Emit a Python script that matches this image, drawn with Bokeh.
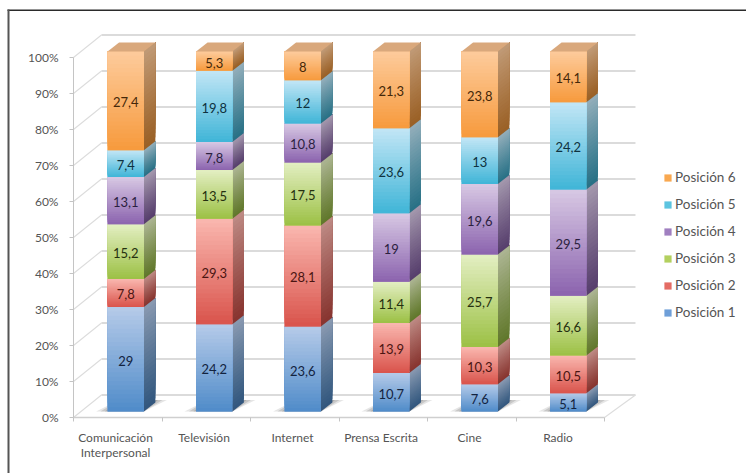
from bokeh.plotting import figure
from bokeh.models import ColumnDataSource, FixedTicker, Legend, LegendItem, Range1d, BoxAnnotation
from bokeh.core.properties import value
from bokeh.embed import file_html
from bokeh.resources import INLINE

categories = ["Comunicación\nInterpersonal", "Televisión", "Internet", "Prensa Escrita", "Cine", "Radio"]
pos1 = [29, 24.2, 23.6, 10.7, 7.6, 5.1]
pos2 = [7.8, 29.3, 28.1, 13.9, 10.3, 10.5]
pos3 = [15.2, 13.5, 17.5, 11.4, 25.7, 16.6]
pos4 = [13.1, 7.8, 10.8, 19, 19.6, 29.5]
pos5 = [7.4, 19.8, 12, 23.6, 13, 24.2]
pos6 = [27.4, 5.3, 8, 21.3, 23.8, 14.1]
series = [pos1, pos2, pos3, pos4, pos5, pos6]
names = ["Posición 1", "Posición 2", "Posición 3", "Posición 4", "Posición 5", "Posición 6"]
y_ticks = [0, 10, 20, 30, 40, 50, 60, 70, 80, 90, 100]

# (top colour, bottom colour, legend colour, label colour)
palette = [
    ("#b6cbe9", "#4f8bc9", "#6f9fd8", "#12233f"),
    ("#fab8b0", "#d9534b", "#e46c64", "#4a1512"),
    ("#e4efc3", "#9bc044", "#b3d05f", "#25300f"),
    ("#d8c9e4", "#8b63ae", "#a07fc0", "#2b1f3f"),
    ("#c3e6f6", "#3fb5d7", "#5cc4e0", "#0e3240"),
    ("#fdcb9c", "#f79a3c", "#f9a850", "#452809"),
]
FONT = "Lato"
GREY = "#cfcfcf"
TEXT = "#555555"

W, H = 746, 473
AX_X, AX_Y = 73, 417     # pixel position of the axes' origin
PX_X, PX_Y = 88.5, 3.6   # pixels per category, per percent


def hex2rgb(c):
    return tuple(int(c[i:i + 2], 16) for i in (1, 3, 5))


def mix(a, b, t, k=1.0):
    ra, rb = hex2rgb(a), hex2rgb(b)
    return "#%02x%02x%02x" % tuple(int(round((ra[i] * (1 - t) + rb[i] * t) * k)) for i in range(3))


# 3-D projection offsets, in data units
WALL_DY = 6.25
WALL_X0, WALL_X1 = 0.316, 6.35
BAR_OFF, BAR_W = 0.385, 0.41
BAR_BASE = 1.65
SIDE_DX, SIDE_DY = 0.13, 2.5
SLICES = 24

p = figure(width=W, height=H, output_backend="svg", toolbar_location=None,
           x_range=Range1d(-AX_X / PX_X, (W - AX_X) / PX_X),
           y_range=Range1d(-(H - AX_Y) / PX_Y, AX_Y / PX_Y),
           min_border=0, min_border_left=0, min_border_right=0, min_border_top=0, min_border_bottom=0,
           background_fill_color="white", border_fill_color="white", outline_line_color=None)
p.grid.visible = False

# walls
back = ColumnDataSource(dict(x0=[WALL_X0] * len(y_ticks), x1=[WALL_X1] * len(y_ticks),
                             y=[v + WALL_DY for v in y_ticks]))
p.segment("x0", "y", "x1", "y", source=back, line_color=GREY, line_width=1.6)
diag = ColumnDataSource(dict(x0=[0] * len(y_ticks), x1=[WALL_X0] * len(y_ticks), y0=y_ticks,
                             y1=[v + WALL_DY for v in y_ticks]))
p.segment("x0", "y0", "x1", "y1", source=diag, line_color="#dcdcdc", line_width=1.1)
p.segment([6], [0], [WALL_X1], [WALL_DY], line_color="#dcdcdc", line_width=1.1)

# floor shadows
for grow, alpha in ((0.13, 0.18), (0.08, 0.25), (0.03, 0.3)):
    xs, ys = [], []
    for i in range(len(categories)):
        l = i + BAR_OFF
        r = l + BAR_W
        xs.append([l - grow, r, r + SIDE_DX + grow, l + SIDE_DX])
        ys.append([BAR_BASE, BAR_BASE, BAR_BASE + 3.2, BAR_BASE + 3.2])
    p.patches(xs, ys, fill_color="#6e6e6e", fill_alpha=alpha, line_color=None)

legend_renderers = []
label_x, label_y, label_t, label_c = [], [], [], []
cum = [0.0] * len(categories)
totals = [sum(s[i] for s in series) for i in range(len(categories))]

for si, s in enumerate(series):
    top_c, bot_c, leg_c, txt_c = palette[si]
    lefts, rights, bots, tops = [], [], [], []
    fl, fr, fb, ft, fc = [], [], [], [], []
    sx, sy, sc = [], [], []
    for i, v in enumerate(s):
        nv = v * 100.0 / totals[i]
        y0 = BAR_BASE + cum[i]
        y1 = y0 + nv
        cum[i] += nv
        l = i + BAR_OFF
        r = l + BAR_W
        lefts.append(l); rights.append(r); bots.append(y0); tops.append(y1)
        label_x.append((l + r) / 2); label_y.append((y0 + y1) / 2 - 0.4)
        label_t.append(str(v).replace(".", ","))
        label_c.append(txt_c)
        for k in range(SLICES):
            a = y0 + nv * k / SLICES
            t = (k + 0.5) / SLICES  # 0 at bottom, 1 at top
            # every slice runs to the segment's top and is painted over by the next
            fl.append(l); fr.append(r); fb.append(a); ft.append(y1)
            fc.append(mix(bot_c, top_c, t))
            sx.append([r, r + SIDE_DX, r + SIDE_DX, r])
            sy.append([a, a + SIDE_DY, y1 + SIDE_DY, y1])
            sc.append(mix(bot_c, top_c, t, 0.62 + 0.14 * t))
    base = p.quad(left=lefts, right=rights, bottom=bots, top=tops, fill_color=leg_c, line_color=None)
    legend_renderers.append(base)
    p.patches(sx, sy, fill_color=sc, line_color=None)
    p.quad(left=fl, right=fr, bottom=fb, top=ft, fill_color=fc, line_color=None)

# top caps
cap_x, cap_y = [], []
for i in range(len(categories)):
    l = i + BAR_OFF
    r = l + BAR_W
    y = BAR_BASE + cum[i]
    cap_x.append([l, r, r + SIDE_DX, l + SIDE_DX])
    cap_y.append([y, y, y + SIDE_DY, y + SIDE_DY])
p.patches(cap_x, cap_y, fill_color="#d9a87c", line_color=None)

p.text(label_x, label_y, text=label_t, text_color=label_c, text_align="center",
       text_baseline="middle", text_font=value(FONT), text_font_size="13px")

# axes
xa = p.xaxis[0]
xa.fixed_location = 0
xa.ticker = FixedTicker(ticks=[i + 0.475 for i in range(len(categories))],
                        minor_ticks=list(range(len(categories) + 1)))
xa.major_label_overrides = {i + 0.475: c for i, c in enumerate(categories)}
xa.bounds = (0, 6)
xa.axis_line_color = GREY
xa.axis_line_width = 1.6
xa.major_tick_line_color = None
xa.major_tick_in = xa.major_tick_out = 0
xa.minor_tick_line_color = "#c4c4c4"
xa.minor_tick_in = 0
xa.minor_tick_out = 4
xa.major_label_text_font = FONT
xa.major_label_text_font_size = "12px"
xa.major_label_text_color = TEXT
xa.major_label_text_line_height = 1.0
xa.major_label_standoff = 8

ya = p.yaxis[0]
ya.fixed_location = 0
ya.ticker = FixedTicker(ticks=y_ticks)
ya.major_label_overrides = {v: "%d%%" % v for v in y_ticks}
ya.bounds = (0, 100)
ya.axis_line_color = "#c4c4c4"
ya.major_tick_line_color = "#c4c4c4"
ya.major_tick_in = 0
ya.major_tick_out = 4
ya.minor_tick_line_color = None
ya.major_label_text_font = FONT
ya.major_label_text_font_size = "12px"
ya.major_label_text_color = TEXT
ya.major_label_standoff = 11

# legend
items = [LegendItem(label=names[i], renderers=[legend_renderers[i]]) for i in range(5, -1, -1)]
legend = Legend(items=items, location=(663, H - 320), background_fill_alpha=0, border_line_color=None,
                glyph_width=9, glyph_height=9, label_standoff=3, label_height=12, spacing=11,
                padding=0, margin=0, label_text_font=FONT, label_text_font_size="13.5px",
                label_text_color=TEXT)
p.add_layout(legend, "center")

# picture frame (top and left rules)
p.add_layout(BoxAnnotation(left=7, right=W, top=H - 9, bottom=H - 10.5, left_units="screen", right_units="screen",
                           top_units="screen", bottom_units="screen", fill_color="#2b2b2b", fill_alpha=1,
                           line_color=None))
p.add_layout(BoxAnnotation(left=7, right=9, top=H - 9, bottom=0, left_units="screen", right_units="screen",
                           top_units="screen", bottom_units="screen", fill_color="#555555", fill_alpha=1,
                           line_color=None))

open("out.html", "w").write(file_html(p, INLINE))
